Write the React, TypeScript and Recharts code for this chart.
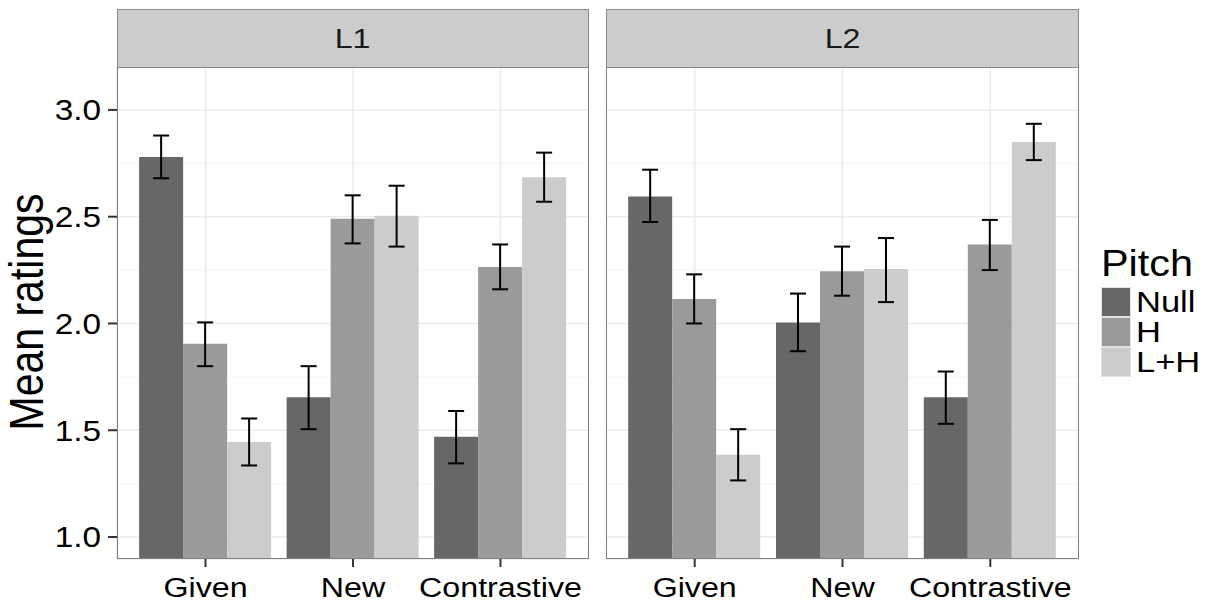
import { BarChart, Bar, XAxis, YAxis, CartesianGrid, ErrorBar } from 'recharts';

const categories = ['Given', 'New', 'Contrastive'];
const seriesNames = ['Null', 'H', 'L+H'];
const seriesColors = ['#676767', '#9a9a9a', '#cccccc'];
const yTicks = [1, 1.5, 2, 2.5, 3];
const yMinorTicks = [1.25, 1.75, 2.25, 2.75];

// L1 panel
const l1Null = [2.78, 1.655, 1.47];
const l1NullLo = [2.68, 1.505, 1.345];
const l1NullHi = [2.88, 1.8, 1.59];
const l1H = [1.905, 2.49, 2.265];
const l1HLo = [1.8, 2.375, 2.16];
const l1HHi = [2.005, 2.6, 2.37];
const l1LH = [1.445, 2.505, 2.685];
const l1LHLo = [1.335, 2.36, 2.57];
const l1LHHi = [1.555, 2.645, 2.8];

// L2 panel
const l2Null = [2.595, 2.005, 1.655];
const l2NullLo = [2.475, 1.87, 1.53];
const l2NullHi = [2.72, 2.14, 1.775];
const l2H = [2.115, 2.245, 2.37];
const l2HLo = [2.0, 2.13, 2.25];
const l2HHi = [2.23, 2.36, 2.485];
const l2LH = [1.385, 2.255, 2.85];
const l2LHLo = [1.265, 2.1, 2.765];
const l2LHHi = [1.505, 2.4, 2.935];

const domain: [number, number] = [0.897, 3.201];

function buildRows(vals: number[][], lo: number[][], hi: number[][]) {
    return categories.map((c, i) => {
        const row: any = { category: c };
        vals.forEach((s, k) => {
            row['s' + k] = s[i];
            row['e' + k] = [s[i] - lo[k][i], hi[k][i] - s[i]];
        });
        return row;
    });
}

const l1Rows = buildRows([l1Null, l1H, l1LH], [l1NullLo, l1HLo, l1LHLo], [l1NullHi, l1HHi, l1LHHi]);
const l2Rows = buildRows([l2Null, l2H, l2LH], [l2NullLo, l2HLo, l2LHLo], [l2NullHi, l2HHi, l2LHHi]);

const PLOT_TOP = 67;
const PLOT_BOTTOM = 559;
const AXIS_W = 117;
const STRETCH = 1.15; // the reference text is a little wider than Arial

const XTick = ({ x, y, payload }: any) => (
    <g transform={`translate(${x},${y})`}>
        <text transform={`scale(${STRETCH},1)`} textAnchor="middle" dy="0.71em" fontSize={28} fill="#000">
            {payload.value}
        </text>
    </g>
);

const YTick = ({ x, y, payload }: any) => (
    <g transform={`translate(${x},${y})`}>
        <text transform={`scale(${STRETCH},1)`} textAnchor="end" dy="0.355em" fontSize={29} fill="#000">
            {Number(payload.value).toFixed(1)}
        </text>
    </g>
);

type PanelProps = {
    title: string
    rows: any[]
    plotLeft: number
    plotWidth: number
    showAxis: boolean
}

function Panel({ title, rows, plotLeft, plotWidth, showAxis }: PanelProps) {
    const yw = showAxis ? AXIS_W : 0;
    const pad = plotWidth / 32;
    return (
        <>
            <div style={{ position: 'absolute', left: plotLeft - yw, top: 0 }}>
                <BarChart
                    width={yw + plotWidth}
                    height={606}
                    data={rows}
                    margin={{ top: PLOT_TOP, right: 0, bottom: 0, left: 0 }}
                    barCategoryGap="5%"
                    barGap={0}
                >
                    <CartesianGrid yAxisId="minor" vertical={false} stroke="#f4f4f4" strokeWidth={1} />
                    <CartesianGrid stroke="#ebebeb" strokeWidth={1.5} />
                    <XAxis
                        dataKey="category"
                        height={606 - PLOT_BOTTOM}
                        padding={{ left: pad, right: pad }}
                        axisLine={false}
                        tickSize={8}
                        tickMargin={10}
                        tickLine={{ stroke: '#333', strokeWidth: 2 }}
                        tick={<XTick />}
                        interval={0}
                    />
                    <YAxis
                        hide={!showAxis}
                        width={yw}
                        domain={domain}
                        allowDataOverflow
                        ticks={yTicks}
                        axisLine={false}
                        tickSize={9}
                        tickMargin={7}
                        tickLine={{ stroke: '#333', strokeWidth: 2 }}
                        tick={<YTick />}
                    />
                    <YAxis yAxisId="minor" hide domain={domain} allowDataOverflow ticks={yMinorTicks} />
                    {seriesNames.map((n, k) => (
                        <Bar key={n} dataKey={'s' + k} name={n} fill={seriesColors[k]} isAnimationActive={false}>
                            <ErrorBar dataKey={'e' + k} width={8} stroke="#000" strokeWidth={2} />
                        </Bar>
                    ))}
                </BarChart>
            </div>
            <div style={{
                position: 'absolute', left: plotLeft, top: PLOT_TOP, width: plotWidth, height: PLOT_BOTTOM - PLOT_TOP,
                border: '1.5px solid #7f7f7f', boxSizing: 'border-box', pointerEvents: 'none'
            }} />
            <div style={{
                position: 'absolute', left: plotLeft, top: 9, width: plotWidth, height: PLOT_TOP - 9 + 1,
                background: '#cccccc', border: '1.5px solid #888888', boxSizing: 'border-box',
                display: 'flex', alignItems: 'center', justifyContent: 'center'
            }}>
                <span style={{ fontSize: 28, color: '#1a1a1a', transform: `scaleX(${STRETCH})` }}>{title}</span>
            </div>
        </>
    );
}

export default function App() {
    return (
        <div style={{
            position: 'absolute', left: 0, top: 0, width: 1207, height: 606, background: '#fff',
            fontFamily: '"Liberation Sans", Arial, sans-serif', overflow: 'hidden'
        }}>
            <Panel title="L1" rows={l1Rows} plotLeft={117} plotWidth={472} showAxis />
            <Panel title="L2" rows={l2Rows} plotLeft={606} plotWidth={473} showAxis={false} />
            <div style={{
                position: 'absolute', left: 27, top: 312,
                transform: `translate(-50%, -50%) scaleX(${STRETCH}) rotate(-90deg)`,
                fontSize: 41, whiteSpace: 'nowrap', color: '#000', lineHeight: 1
            }}>Mean ratings</div>
            <div style={{
                position: 'absolute', left: 1101, top: 245, fontSize: 36, color: '#000', lineHeight: '38px',
                transform: `scaleX(${STRETCH})`, transformOrigin: 'left center'
            }}>Pitch</div>
            {seriesNames.map((n, k) => (
                <div key={n} style={{ position: 'absolute', left: 1101, top: 287 + k * 30, height: 30, display: 'flex', alignItems: 'center' }}>
                    <div style={{ width: 30, height: 30, background: seriesColors[k], border: '1.5px solid #e2e2e2', boxSizing: 'border-box' }} />
                    <span style={{
                        fontSize: 30, marginLeft: 5, color: '#000', lineHeight: '30px',
                        transform: `scaleX(${STRETCH})`, transformOrigin: 'left center'
                    }}>{n}</span>
                </div>
            ))}
        </div>
    );
}
